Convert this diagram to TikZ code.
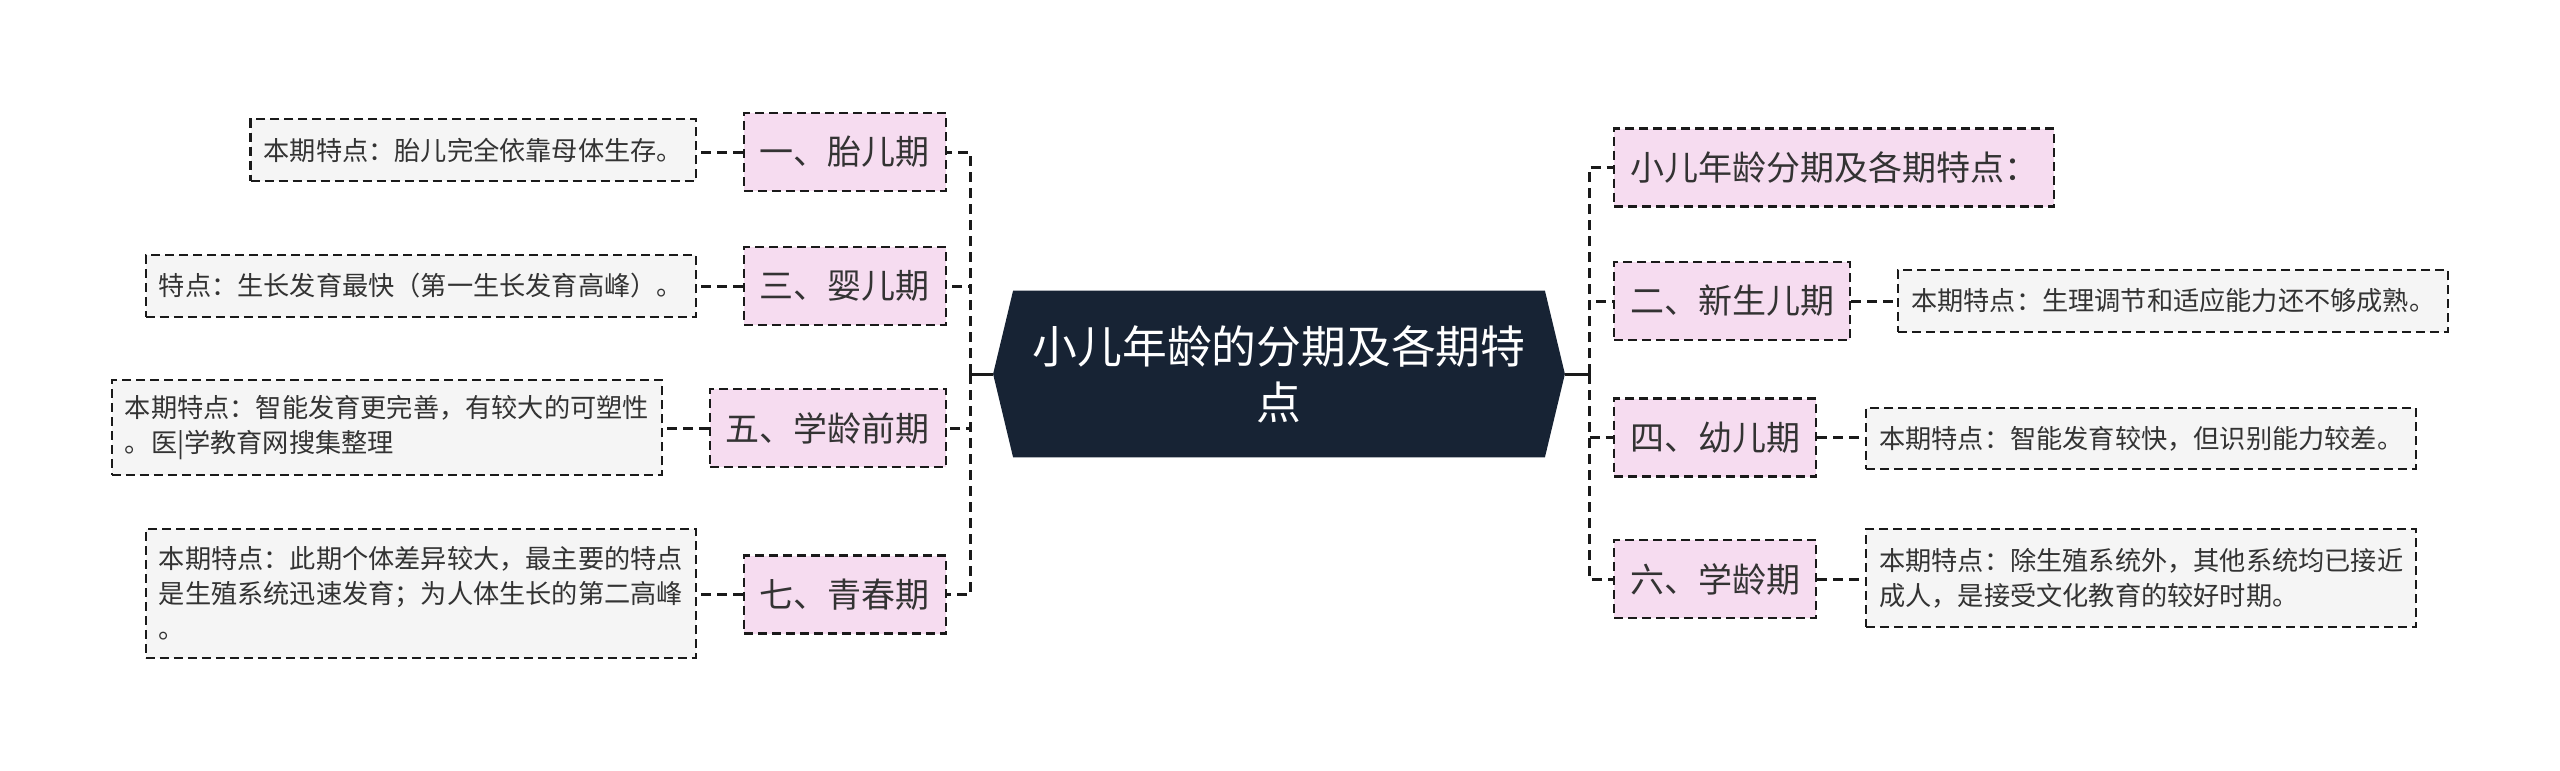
\documentclass[tikz,border=0pt]{standalone}
\usepackage{fontspec}
\setmainfont{Noto Sans CJK SC}
\usetikzlibrary{calc}
\pgfdeclarelayer{bg}
\pgfsetlayers{bg,main}
\definecolor{navy}{HTML}{172334}
\definecolor{pinkfill}{HTML}{F6DCF0}
\definecolor{grayfill}{HTML}{F5F5F5}
\definecolor{ink}{HTML}{333333}
\definecolor{edge}{HTML}{1A1A1A}
\begin{document}
\begin{tikzpicture}[x=0.5pt,y=-0.5pt,
  period/.style={draw=edge, dash pattern=on 4.5pt off 2.5pt, line width=1.2pt, fill=pinkfill, text=ink,
    font=\fontsize{17}{20}\selectfont, inner xsep=8pt, inner ysep=0pt, minimum height=39pt},
  note/.style={draw=edge, dash pattern=on 4.5pt off 2.5pt, line width=1.2pt, fill=grayfill, text=ink,
    font=\fontsize{13.1}{17.5}\selectfont, align=left, inner xsep=6.5pt, inner ysep=0pt},
  link/.style={draw=edge, line width=1.5pt, dash pattern=on 5pt off 3pt},
]
\useasboundingbox (0,0) rectangle (2560,771);

% central topic
\node[text=white, font=\fontsize{22.4}{28}\selectfont, align=center,
  minimum width=265.5pt, minimum height=83pt, inner sep=0pt] (c) at (1279,374)
  {小儿年龄的分期及各期特\\点};
\coordinate (cl) at ($(c.west)+(-20,0)$);
\coordinate (cr) at ($(c.east)+(20,0)$);
\begin{pgfonlayer}{bg}
\fill[navy] (c.north west) -- (c.north east) -- (cr) -- (c.south east) -- (c.south west) -- (cl) -- cycle;
\end{pgfonlayer}
\coordinate (sl) at (970,374);
\coordinate (sr) at (1589,374);

% left periods
\node[period, anchor=east] (n1) at (947,152) {一、胎儿期};
\node[period, anchor=east] (n3) at (947,286) {三、婴儿期};
\node[period, anchor=east] (n5) at (947,428) {五、学龄前期};
\node[period, anchor=east] (n7) at (947,594.5) {七、青春期};

% left notes
\node[note, anchor=east, minimum height=31pt] (a1) at (697,150) {本期特点：胎儿完全依靠母体生存。};
\node[note, anchor=east, minimum height=31pt] (a3) at (697,286) {特点：生长发育最快（第一生长发育高峰）。};
\node[note, anchor=east, minimum height=47.5pt] (a5) at (663,427.5) {本期特点：智能发育更完善，有较大的可塑性\\。医|学教育网搜集整理};
\node[note, anchor=east, minimum height=64.5pt] (a7) at (697,593.5) {本期特点：此期个体差异较大，最主要的特点\\是生殖系统迅速发育；为人体生长的第二高峰\\。};

% right periods
\node[period, anchor=west] (r0) at (1613,167.5) {小儿年龄分期及各期特点：};
\node[period, anchor=west] (r2) at (1613,301) {二、新生儿期};
\node[period, anchor=west] (r4) at (1613,437.5) {四、幼儿期};
\node[period, anchor=west] (r6) at (1613,579) {六、学龄期};

% right notes
\node[note, anchor=west, minimum height=31pt] (b2) at (1897,301) {本期特点：生理调节和适应能力还不够成熟。};
\node[note, anchor=west, minimum height=30.5pt] (b4) at (1865,438.5) {本期特点：智能发育较快，但识别能力较差。};
\node[note, anchor=west, minimum height=49pt] (b6) at (1865,578) {本期特点：除生殖系统外，其他系统均已接近\\成人，是接受文化教育的较好时期。};

% connectors
\draw[draw=edge, line width=1.5pt] (cl) -- (sl);
\draw[draw=edge, line width=1.5pt] (cr) -- (sr);
\foreach \n in {n1,n3,n5,n7} {\draw[link] (sl) |- (\n.east);}
\foreach \n in {r0,r2,r4,r6} {\draw[link] (sr) |- (\n.west);}
\draw[link] (n1.west) -- (n1.west -| a1.east);
\draw[link] (n3.west) -- (n3.west -| a3.east);
\draw[link] (n5.west) -- (n5.west -| a5.east);
\draw[link] (n7.west) -- (n7.west -| a7.east);
\draw[link] (r2.east) -- (r2.east -| b2.west);
\draw[link] (r4.east) -- (r4.east -| b4.west);
\draw[link] (r6.east) -- (r6.east -| b6.west);
\end{tikzpicture}
\end{document}
